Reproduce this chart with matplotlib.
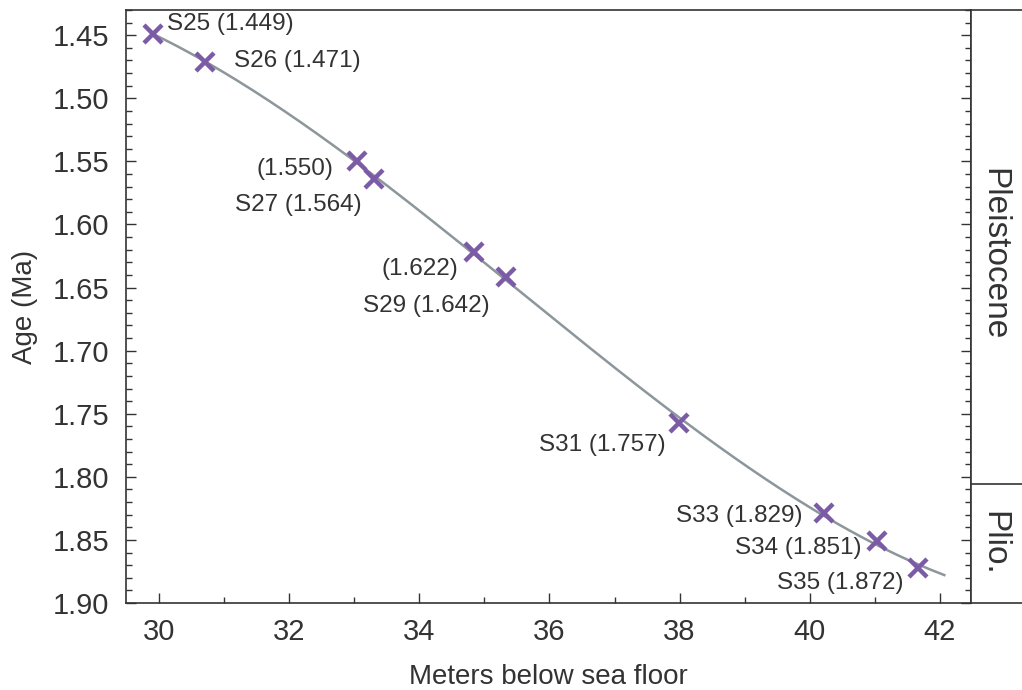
import numpy as np
import matplotlib.pyplot as plt

plt.rcParams['font.family'] = ['Liberation Sans', 'DejaVu Sans']

# tie points: depth (mbsf) and age (Ma)
depth = [29.91, 30.71, 33.04, 33.30, 34.84, 35.33, 37.99, 40.22, 41.03, 41.66]
age = [1.449, 1.471, 1.550, 1.564, 1.622, 1.642, 1.757, 1.829, 1.851, 1.872]
labels = ["S25 (1.449)", "S26 (1.471)", "(1.550)", "S27 (1.564)", "(1.622)",
          "S29 (1.642)", "S31 (1.757)", "S33 (1.829)", "S34 (1.851)", "S35 (1.872)"]
# label offsets in pixels and alignment
offsets = [(14, 10), (29, 1), (-24, -8), (-12, -26), (-16, -17),
           (-16, -29), (-13, -22), (-21, -3), (-15, -7), (-14, -15)]
aligns = ["left", "left", "right", "right", "right",
          "right", "right", "right", "right", "right"]

boundary = 1.806  # Pleistocene / Pliocene
ytop, ybot = 1.43, 1.90

txt = "#333333"
fig = plt.figure(figsize=(10.22, 6.90), dpi=100)
ax = fig.add_axes([0.1233, 0.1261, 0.8268, 0.8594])

# smooth age model through the tie points
coef = np.polyfit(depth, age, 3)
xs = np.linspace(depth[0], 42.07, 200)
ax.plot(xs, np.polyval(coef, xs), color="#8c969b", lw=1.8, zorder=1)
ax.plot(depth, age, "x", color="#7b5aa6", ms=13, mew=3.2, zorder=2)

for x, y, lab, off, ha in zip(depth, age, labels, offsets, aligns):
    ax.annotate(lab, (x, y), xytext=off, textcoords="offset pixels",
                ha=ha, va="center", fontsize=17.5, color=txt)

ax.set_xlim(29.49, 42.48)
ax.set_ylim(ybot, ytop)
ax.set_xticks(np.arange(30, 43, 2))
ax.set_xticks(np.arange(30, 43, 1), minor=True)
ax.set_yticks(np.arange(1.45, 1.91, 0.05))
ax.set_yticks(np.arange(1.43, 1.905, 0.01), minor=True)
ax.yaxis.set_major_formatter(plt.FormatStrFormatter("%.2f"))
ax.tick_params(which="both", direction="in", right=True, colors="#333333",
               labelsize=21, labelcolor=txt)
ax.tick_params(which="major", length=7, width=1)
ax.tick_params(which="minor", length=4, width=1)
ax.tick_params(axis="y", pad=12)
ax.tick_params(axis="x", pad=10.5)
for s in ax.spines.values():
    s.set_color("#333333")
    s.set_linewidth(1.2)
ax.set_xlabel("Meters below sea floor", fontsize=20, color=txt, va="center")
ax.xaxis.set_label_coords(0.5, -0.125)
ax.set_ylabel("Age (Ma)", fontsize=20, color=txt, va="center")
ax.yaxis.set_label_coords(-0.12, 0.5)

# epoch column
ep = fig.add_axes([0.9501, 0.1261, 0.0499, 0.8594])
ep.set_ylim(ybot, ytop)
ep.set_xlim(0, 1)
ep.set_xticks([])
ep.set_yticks([])
ep.spines["right"].set_visible(False)
for s in ep.spines.values():
    s.set_color("#333333")
    s.set_linewidth(1.2)
ep.axhline(boundary, color="#333333", lw=1.2)
ep.text(0.45, 1.6235, "Pleistocene", rotation=270, ha="center",
        va="center", fontsize=24, color=txt)
ep.text(0.45, (boundary + ybot) / 2, "Plio.", rotation=270, ha="center",
        va="center", fontsize=24, color=txt)

fig.savefig("out.png", dpi=100)
